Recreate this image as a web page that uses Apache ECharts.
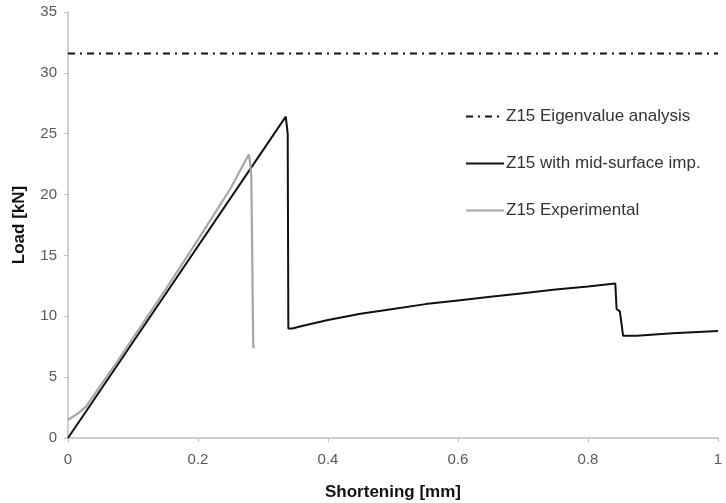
<!DOCTYPE html>
<html>
<head>
<meta charset="utf-8">
<script src="https://cdn.jsdelivr.net/npm/echarts@6/dist/echarts.min.js"></script>
<style>
  html, body { margin: 0; padding: 0; background: #ffffff; }
  #chart { width: 726px; height: 503px; }
</style>
</head>
<body>
<div id="chart"></div>
<script>
// Load–shortening curves for specimen Z15
var seriesNames = ['Z15 Eigenvalue analysis', 'Z15 with mid-surface imp.', 'Z15 Experimental'];

// Buckling load from eigenvalue analysis (kN), drawn across the full range
var eigenX = [0, 1];
var eigenLoad = [31.6, 31.6];

// Numerical model with mid-surface imperfection: shortening (mm), load (kN)
var numX = [0, 0.335, 0.338, 0.339, 0.345, 0.36, 0.40, 0.45, 0.50, 0.55, 0.60, 0.65, 0.70, 0.75, 0.80, 0.842, 0.844, 0.849, 0.851, 0.854, 0.875, 0.93, 1.0];
var numLoad = [0, 26.4, 25.0, 9.0, 9.0, 9.2, 9.7, 10.2, 10.6, 11.0, 11.3, 11.6, 11.9, 12.2, 12.45, 12.7, 10.6, 10.4, 10.3, 8.4, 8.4, 8.6, 8.8];

// Test result
var expX = [0, 0.015, 0.028, 0.05, 0.08, 0.10, 0.15, 0.20, 0.25, 0.265, 0.278, 0.280, 0.282, 0.285, 0.287];
var expLoad = [1.5, 2.0, 2.6, 4.3, 6.6, 8.2, 12.2, 16.3, 20.5, 22.0, 23.3, 22.7, 21.5, 7.5, 7.4];

var xTicks = [0, 0.2, 0.4, 0.6, 0.8, 1];
var yMax = 35, yStep = 5;

function pairs(xs, ys) {
  return xs.map(function (x, i) { return [x, ys[i]]; });
}

var chart = echarts.init(document.getElementById('chart'), null, { renderer: 'canvas' });

var axisGray = '#bfbfbf';
var labelGray = '#595959';
var fontFam = '"Liberation Sans", Arial, sans-serif';

chart.setOption({
  animation: false,
  backgroundColor: '#ffffff',
  grid: { left: 68, right: 8, top: 12, bottom: 65, containLabel: false, outerBoundsMode: 'none' },
  xAxis: {
    type: 'value',
    min: xTicks[0],
    max: xTicks[xTicks.length - 1],
    interval: 0.2,
    name: 'Shortening [mm]',
    nameLocation: 'middle',
    nameGap: 46,
    nameTextStyle: { fontFamily: fontFam, fontSize: 17, fontWeight: 'bold', color: '#111' },
    axisLine: { lineStyle: { color: axisGray, width: 1.5 } },
    axisTick: { show: true, length: 4, lineStyle: { color: axisGray } },
    axisLabel: { fontFamily: fontFam, fontSize: 15, color: labelGray, margin: 14,
      formatter: function (v) { return String(Math.round(v * 10) / 10); } },
    splitLine: { show: false }
  },
  yAxis: {
    type: 'value',
    min: 0,
    max: yMax,
    interval: yStep,
    name: 'Load [kN]',
    nameLocation: 'middle',
    nameGap: 40,
    nameTextStyle: { fontFamily: fontFam, fontSize: 17, fontWeight: 'bold', color: '#111' },
    axisLine: { show: true, lineStyle: { color: axisGray, width: 1.5 } },
    axisTick: { show: true, length: 4, lineStyle: { color: axisGray } },
    axisLabel: { fontFamily: fontFam, fontSize: 15, color: labelGray, margin: 11 },
    splitLine: { show: false }
  },
  legend: {
    orient: 'vertical',
    left: 460,
    top: 103,
    itemWidth: 38,
    itemHeight: 14,
    itemGap: 30,
    itemStyle: { opacity: 0 },
    textStyle: { fontFamily: fontFam, fontSize: 17, color: '#333', padding: [0, 0, 0, -3] },
    data: seriesNames
  },
  series: [
    {
      name: seriesNames[0],
      type: 'line',
      data: pairs(eigenX, eigenLoad),
      showSymbol: false,
      symbol: 'none',
      lineStyle: { color: '#111', width: 2, type: [7, 5, 2, 5] },
      itemStyle: { color: '#111' }
    },
    {
      name: seriesNames[1],
      type: 'line',
      data: pairs(numX, numLoad),
      showSymbol: false,
      symbol: 'none',
      lineStyle: { color: '#111', width: 2 },
      itemStyle: { color: '#111' }
    },
    {
      name: seriesNames[2],
      type: 'line',
      data: pairs(expX, expLoad),
      showSymbol: false,
      symbol: 'none',
      lineStyle: { color: '#a6a6a6', width: 2.2 },
      itemStyle: { color: '#a6a6a6' }
    }
  ]
});
</script>
</body>
</html>
